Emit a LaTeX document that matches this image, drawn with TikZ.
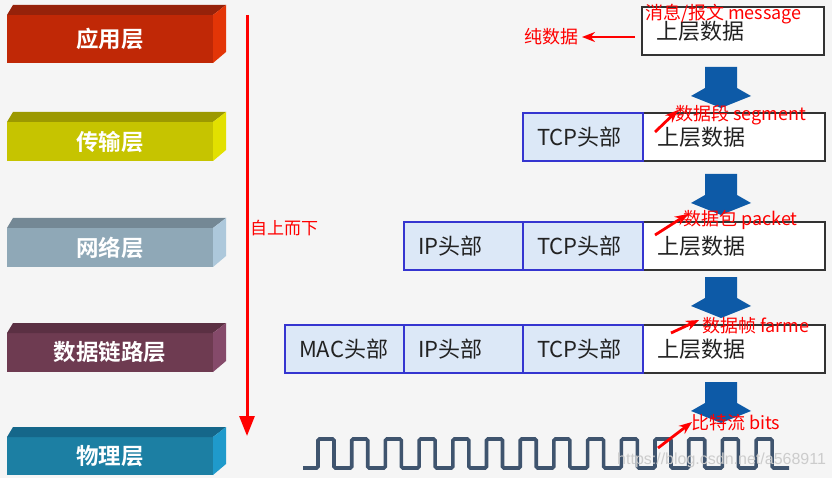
\documentclass[tikz,border=0pt]{standalone}
\usepackage{fontspec}
\setmainfont{Noto Sans CJK SC}[BoldFont={Noto Sans CJK SC Bold}]
\newfontfamily\wmfont{Liberation Sans}
\usetikzlibrary{arrows.meta}
\definecolor{bgc}{HTML}{F5F5F5}
\definecolor{l1f}{HTML}{C02806}\definecolor{l1t}{HTML}{96220A}\definecolor{l1s}{HTML}{E33507}
\definecolor{l2f}{HTML}{C6C400}\definecolor{l2t}{HTML}{9C9900}\definecolor{l2s}{HTML}{E2E000}
\definecolor{l3f}{HTML}{8FA8B7}\definecolor{l3t}{HTML}{748895}\definecolor{l3s}{HTML}{ADC8DB}
\definecolor{l4f}{HTML}{6E3B51}\definecolor{l4t}{HTML}{5B3043}\definecolor{l4s}{HTML}{854A6A}
\definecolor{l5f}{HTML}{1C7FA3}\definecolor{l5t}{HTML}{15678A}\definecolor{l5s}{HTML}{1F9ACB}
\definecolor{boxgray}{HTML}{333333}
\definecolor{textgray}{HTML}{222222}
\definecolor{hdrblue}{HTML}{3535D0}
\definecolor{hdrfill}{HTML}{DCE8F7}
\definecolor{arrowblue}{HTML}{0D5AA7}
\definecolor{wavec}{HTML}{3F546E}
\newcommand\layerbox[7]{%
  \node[layer, fill=#4, minimum height={#3-#2}] (#1) at (7,#2) {#7};
  \fill[#5] (#1.north west) -- ++(6,-10) -- ([shift={(13,-10)}]#1.north east) -- (#1.north east) -- cycle;
  \fill[#6] (#1.north east) -- ++(13,-10) -- ([shift={(13,-11)}]#1.south east) -- (#1.south east) -- cycle;
}
\tikzset{
  layer/.style={rectangle, anchor=north west, minimum width=206pt, inner sep=0pt, outer sep=0pt,
    text=white, font=\bfseries\fontsize{22.5}{22.5}\selectfont},
  cell/.style={line width=1.4pt, minimum height=48pt, inner xsep=14pt, inner ysep=0pt, outer sep=0pt,
    align=left, font=\fontsize{22}{22}\selectfont, text=textgray},
  datacell/.style={cell, draw=boxgray, fill=white, text width=154pt, anchor=north west},
  hdrcell/.style={cell, draw=hdrblue, fill=hdrfill, text width=#1, anchor=north east},
  redlbl/.style={anchor=west, inner sep=0pt, text=red, font=\fontsize{18}{18}\selectfont},
  redann/.style={draw=red, line width=2.8pt, -{Stealth[length=13pt,width=10pt]}},
  bluedown/.pic={\fill[arrowblue] (-16,0) -- (16,0) -- (16,21) -- (30,29) -- (0,41) -- (-30,29) -- (-16,21) -- cycle;},
  wave/.style={draw=wavec, line width=3.6pt, rounded corners=1.5pt}
}
\begin{document}
\begin{tikzpicture}[x=1pt,y=-1pt]
\useasboundingbox (0,0) rectangle (832,478);
\fill[bgc] (0,0) rectangle (832,478);
% layers
\layerbox{app}{15}{63}{l1f}{l1t}{l1s}{应用层}
\layerbox{trans}{122}{161}{l2f}{l2t}{l2s}{传输层}
\layerbox{net}{228}{267}{l3f}{l3t}{l3s}{网络层}
\layerbox{link}{333}{372}{l4f}{l4t}{l4s}{数据链路层}
\layerbox{phys}{437}{475}{l5f}{l5t}{l5s}{物理层}
% top-down arrow
\coordinate (vs) at (247,15);
\coordinate (ve) at (247,436);
\draw[red, line width=3pt, -{Triangle[length=20pt,width=15pt]}] (vs) -- (ve);
\node[redlbl, font=\fontsize{17}{17}\selectfont] (tdown) at (250,228) {自上而下};
% rows
\node[datacell] (d1) at (642,7) {上层数据};
\node[datacell] (d2) at (643,113) {上层数据};
\node[hdrcell=92pt] (t2) at (d2.north west) {TCP头部};
\node[datacell] (d3) at (643,222) {上层数据};
\node[hdrcell=92pt] (t3) at (d3.north west) {TCP头部};
\node[hdrcell=91pt] (i3) at (t3.north west) {IP头部};
\node[datacell] (d4) at (643,325) {上层数据};
\node[hdrcell=92pt] (t4) at (d4.north west) {TCP头部};
\node[hdrcell=91pt] (i4) at (t4.north west) {IP头部};
\node[hdrcell=91pt] (m4) at (i4.north west) {MAC头部};
% blue arrows
\pic at (721,67) {bluedown};
\pic at (721,174) {bluedown};
\pic at (721,277) {bluedown};
\pic at (721,382) {bluedown};
% wave
\draw[wave] (303,468) foreach \k in {0,...,13} { -- ({318+33.7*\k},468) -- ({318+33.7*\k},439) -- ({334+33.7*\k},439) -- ({334+33.7*\k},468) } -- (789,468);
% red labels
\node[redlbl] (msg) at (645,14) {消息/报文 message};
\node[redlbl] (pure) at (524,37) {纯数据};
\node[redlbl] (seg) at (675,115) {数据段 segment};
\node[redlbl] (pkt) at (683,220) {数据包 packet};
\node[redlbl] (frm) at (702,326) {数据帧 farme};
\node[redlbl] (bits) at (691,423) {比特流 bits};
% red annotation arrows
\coordinate (p0) at (635,37); \coordinate (q0) at (582,37);
\coordinate (p1) at (655,132); \coordinate (q1) at (678,110);
\coordinate (p2) at (655,235); \coordinate (q2) at (688,214);
\coordinate (p3) at (671,333); \coordinate (q3) at (699,320);
\coordinate (p4) at (658,448); \coordinate (q4) at (692,422);
\draw[redann] (p0) -- (q0);
\draw[redann] (p1) -- (q1);
\draw[redann] (p2) -- (q2);
\draw[redann] (p3) -- (q3);
\draw[redann] (p4) -- (q4);
% watermark
\node[anchor=west, inner sep=0pt, text=gray!40, font=\wmfont\fontsize{16}{16}\selectfont] (wm) at (617,460) {https://blog.csdn.net/a568911};
\end{tikzpicture}
\end{document}
